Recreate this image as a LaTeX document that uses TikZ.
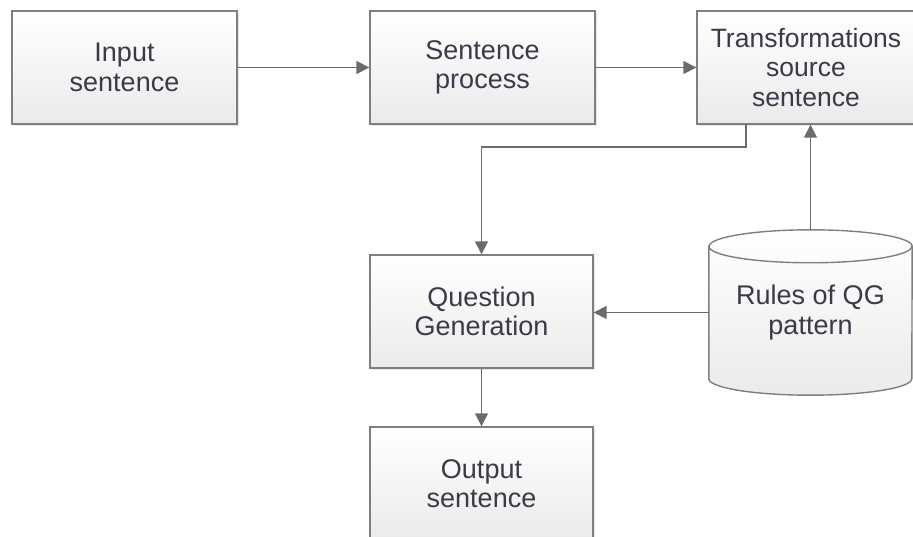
\documentclass[tikz,border=0pt]{standalone}
\usepackage{fontspec}
\setmainfont{Liberation Sans}
\usetikzlibrary{arrows.meta,shadows,backgrounds}
\definecolor{edge}{HTML}{7F7F7F}
\definecolor{wire}{HTML}{6B6B6B}
\definecolor{ink}{HTML}{3A3A48}
\begin{document}
\begin{tikzpicture}[x=1pt, y=-1pt,
		box/.style={draw=edge, line width=1.4pt, rectangle, top color=white, bottom color=black!8,
			minimum width=225pt, minimum height=113pt, inner sep=0pt, align=center,
			text=ink, font=\fontsize{27}{29.5}\selectfont,
			drop shadow={opacity=0.2, shadow xshift=2pt, shadow yshift=-2pt}},
		flow/.style={wire, line width=1.6pt, -{Triangle[length=13pt, width=13pt]}}]
		\useasboundingbox (0,0) rectangle (913,537);

		\node[box] (input) at (124.5,67.5) {Input\\sentence};
		\node[box] (process) at (482.5,67.5) {Sentence\\process};
		\node[box, minimum width=218pt, font=\fontsize{26.5}{29.5}\selectfont] (transf) at (806,67.5) {Transformations\\source\\sentence};
		\node[box, minimum width=223pt] (qg) at (481.5,311.5) {Question\\Generation};
		\node[box, minimum width=223pt] (output) at (481.5,483.5) {Output\\sentence};
		\node[minimum width=203pt, minimum height=165pt, inner sep=0pt, align=center,
			text=ink, font=\fontsize{27}{29.5}\selectfont] (rules) at (810.5,312.5) {Rules of QG\\pattern};
		\begin{scope}[on background layer]
			\draw[edge, line width=1.4pt, top color=white, bottom color=black!8]
				([yshift=-16.5pt]rules.north west) -- ([yshift=16.5pt]rules.south west)
				arc[start angle=180, end angle=360, x radius=101.5pt, y radius=16.5pt]
				-- ([yshift=-16.5pt]rules.north east)
				arc[start angle=0, end angle=180, x radius=101.5pt, y radius=16.5pt] -- cycle;
			\draw[edge, line width=1.4pt] ([yshift=-16.5pt]rules.north west)
				arc[start angle=180, end angle=360, x radius=101.5pt, y radius=16.5pt];
		\end{scope}

		\coordinate (split) at (481.5,147);

		\draw[flow] (input) -- (process);
		\draw[flow] (process) -- (transf);
		\draw[flow] ([xshift=-60pt]transf.south) |- (split) -- (qg.north);
		\draw[flow] (rules.north) -- (rules.north |- transf.south);
		\draw[flow] (rules.west) -- (rules.west -| qg.east);
		\draw[flow] (qg) -- (output);
	\end{tikzpicture}
\end{document}
